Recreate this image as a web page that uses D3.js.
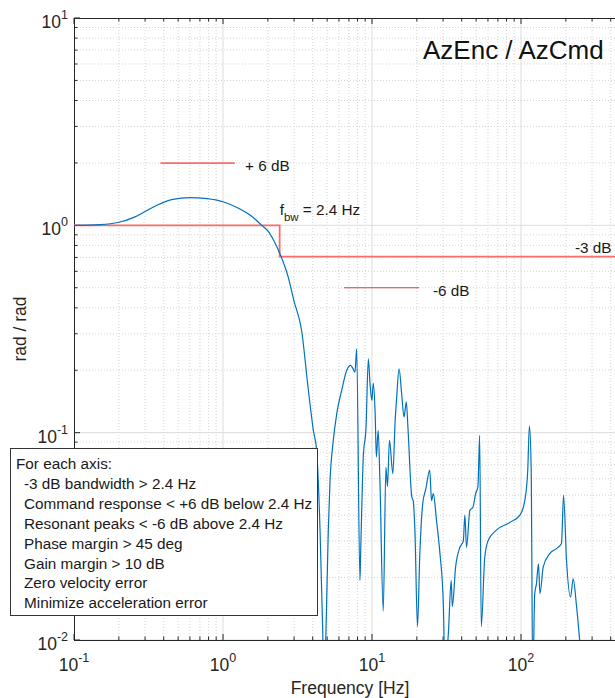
<!DOCTYPE html>
<html>
<head>
<meta charset="utf-8">
<script src="https://cdn.jsdelivr.net/npm/d3@7"></script>
<style>
  body { margin: 0; background: #fff; }
  svg { font-family: "Liberation Sans", Arial, sans-serif; }
</style>
</head>
<body>
<div id="plot"></div>
<script>
// data
const freq = [0.1, 0.15, 0.2, 0.25, 0.3, 0.36, 0.46, 0.6, 0.78, 1.0, 1.3, 1.55, 1.82, 2.0, 2.2, 2.41, 2.74, 3.0, 3.37, 3.72,
  4.04, 4.25, 4.48, 4.67, 4.75, 4.91, 5.09, 5.23, 5.5, 5.8, 6.26, 6.77, 7.19, 7.47, 7.69, 7.89, 8.3, 8.4, 8.74, 9.12,
  9.45, 9.7, 9.98, 10.2, 10.5, 10.7, 11.0, 11.3, 11.9, 12.4, 12.7, 13.1, 13.8, 14.3, 14.6, 15.2, 15.8, 16.4, 17.0, 17.4,
  18.5, 18.9, 19.4, 20.2, 20.9, 21.9, 23.0, 24.4, 25.1, 25.8, 27.1, 28.6, 30.1, 30.9, 32.6, 34.0, 34.6, 36.4, 38.9, 41.0,
  42.0, 43.1, 45.4, 47.6, 49.6, 51.4, 52.8, 54.1, 57.1, 60.0, 68.7, 84.2, 98.4, 106, 111, 113.9, 117, 120, 123.6, 127,
  131, 134, 141, 156, 173, 187, 193, 202, 215, 224, 236, 255, 280];
const mag = [1.0, 1.008, 1.035, 1.09, 1.165, 1.25, 1.335, 1.36, 1.345, 1.30, 1.20, 1.11, 1.0, 0.94, 0.84, 0.73, 0.563, 0.43, 0.311, 0.166,
  0.1026, 0.082, 0.0338, 0.0111, 0.006, 0.011, 0.034, 0.0589, 0.0918, 0.1236, 0.160, 0.1998, 0.211, 0.203, 0.196, 0.254, 0.0194, 0.0271, 0.0763, 0.1064,
  0.227, 0.172, 0.143, 0.173, 0.1235, 0.0763, 0.1026, 0.0589, 0.0138, 0.0683, 0.055, 0.0918, 0.0635, 0.1146, 0.143, 0.203, 0.155, 0.119, 0.141, 0.108,
  0.049, 0.047, 0.034, 0.0116, 0.025, 0.0455, 0.0537, 0.066, 0.047, 0.0508, 0.0377, 0.026, 0.015, 0.007, 0.011, 0.0194, 0.0145, 0.0225, 0.028, 0.030,
  0.040, 0.028, 0.0422, 0.0437, 0.0508, 0.055, 0.097, 0.0116, 0.025, 0.030, 0.034, 0.0369, 0.040, 0.047, 0.066, 0.108, 0.068, 0.006, 0.0167, 0.0187,
  0.0233, 0.0167, 0.0225, 0.0261, 0.0276, 0.0292, 0.050, 0.0243, 0.0161, 0.0197, 0.0145, 0.008, 0.005];

// requirement lines
const fbw = 2.4;
const stepX = [0.1, fbw, fbw, 500];
const stepY = [1, 1, 0.707, 0.707];
const plus6X = [0.38, 1.2], plus6Y = 1.995;
const minus6X = [6.5, 20.7], minus6Y = 0.5;

const xTicks = [0.1, 1, 10, 100];
const xTickExp = ["-1", "0", "1", "2"];
const yTicks = [0.01, 0.1, 1, 10];
const yTickExp = ["-2", "-1", "0", "1"];

const notes = ["For each axis:", "-3 dB bandwidth > 2.4 Hz", "Command response < +6 dB below 2.4 Hz",
  "Resonant peaks < -6 dB above 2.4 Hz", "Phase margin > 45 deg", "Gain margin > 10 dB",
  "Zero velocity error", "Minimize acceleration error"];

const W = 615, H = 698;
const L = 74, T = 18, B = 640;

const svg = d3.select("#plot").append("svg")
  .attr("width", W).attr("height", H);

const x = d3.scaleLog().domain([0.1, 500]).range([L, L + 149 * Math.log10(5000)]);
const y = d3.scaleLog().domain([0.01, 10]).range([B, T]);

svg.append("clipPath").attr("id", "clip")
  .append("rect").attr("x", L).attr("y", T).attr("width", W - L).attr("height", B - T);

// grid
const xAll = x.ticks().filter(v => v >= 0.1 && v <= 500);
const yAll = y.ticks();
const isMajor = v => Math.abs(Math.log10(v) - Math.round(Math.log10(v))) < 1e-6;

const grid = svg.append("g").attr("clip-path", "url(#clip)");
grid.selectAll(".gx").data(xAll).enter().append("line")
  .attr("x1", d => x(d)).attr("x2", d => x(d)).attr("y1", T).attr("y2", B)
  .attr("stroke", d => isMajor(d) ? "#dcdcdc" : "#d4d4d4")
  .attr("stroke-width", 1)
  .attr("stroke-dasharray", d => isMajor(d) ? null : "1,2");
grid.selectAll(".gy").data(yAll).enter().append("line")
  .attr("y1", d => y(d)).attr("y2", d => y(d)).attr("x1", L).attr("x2", W)
  .attr("stroke", d => isMajor(d) ? "#dcdcdc" : "#d4d4d4")
  .attr("stroke-width", 1)
  .attr("stroke-dasharray", d => isMajor(d) ? null : "1,2");

// axes with inward ticks
const axisCol = "#262626";
const tickLen = d => isMajor(d) ? 6 : 3.5;
function drawAxis(g, vals, horiz, pos, dir) {
  g.selectAll("line").data(vals).enter().append("line")
    .attr("x1", d => horiz ? x(d) : pos).attr("x2", d => horiz ? x(d) : pos + dir * tickLen(d))
    .attr("y1", d => horiz ? pos : y(d)).attr("y2", d => horiz ? pos + dir * tickLen(d) : y(d))
    .attr("stroke", axisCol).attr("stroke-width", 1);
}
const axes = svg.append("g");
drawAxis(axes.append("g"), xAll, true, B, -1);
drawAxis(axes.append("g"), xAll, true, T, 1);
drawAxis(axes.append("g"), yAll, false, L, 1);
axes.append("line").attr("x1", L).attr("x2", W).attr("y1", B + 0.5).attr("y2", B + 0.5).attr("stroke", axisCol);
axes.append("line").attr("x1", L).attr("x2", W).attr("y1", T + 0.5).attr("y2", T + 0.5).attr("stroke", axisCol);
axes.append("line").attr("x1", L + 0.5).attr("x2", L + 0.5).attr("y1", T).attr("y2", B).attr("stroke", axisCol);

// tick labels
const tl = svg.append("g").attr("fill", "#262626").attr("font-size", 17.5);
xTicks.forEach((v, i) => {
  const t = tl.append("text").attr("x", x(v)).attr("y", 671).attr("text-anchor", "middle");
  t.append("tspan").text("10");
  t.append("tspan").attr("dy", -9).attr("font-size", 12.5).text(xTickExp[i]);
});
yTicks.forEach((v, i) => {
  const t = tl.append("text").attr("x", 68).attr("y", y(v) + 10).attr("text-anchor", "end");
  t.append("tspan").text("10");
  t.append("tspan").attr("dy", -9).attr("font-size", 12.5).text(yTickExp[i]);
});

// axis labels
svg.append("text").attr("x", 350).attr("y", 694).attr("text-anchor", "middle")
  .attr("font-size", 17.5).attr("fill", "#262626").text("Frequency [Hz]");
svg.append("text").attr("transform", "translate(26,329) rotate(-90)").attr("text-anchor", "middle")
  .attr("font-size", 17.5).attr("fill", "#262626").text("rad / rad");

// plot contents
const plotG = svg.append("g").attr("clip-path", "url(#clip)");

const stepPts = stepX.map((v, i) => [v, stepY[i]]);
plotG.append("path").datum(stepPts)
  .attr("fill", "none").attr("stroke", "#ff6b6b").attr("stroke-width", 1.8)
  .attr("d", d3.line().x(d => x(d[0])).y(d => y(d[1])));

plotG.append("line")
  .attr("x1", x(plus6X[0])).attr("x2", x(plus6X[1])).attr("y1", y(plus6Y)).attr("y2", y(plus6Y))
  .attr("stroke", "#ff6b6b").attr("stroke-width", 1.6);
plotG.append("line")
  .attr("x1", x(minus6X[0])).attr("x2", x(minus6X[1])).attr("y1", y(minus6Y)).attr("y2", y(minus6Y))
  .attr("stroke", "#e8353a").attr("stroke-width", 1.1);

const pts = freq.map((f, i) => [f, mag[i]]);
plotG.append("path").datum(pts)
  .attr("fill", "none").attr("stroke", "#0072BD").attr("stroke-width", 1.2)
  .attr("stroke-linejoin", "round")
  .attr("d", d3.line().curve(d3.curveMonotoneX).x(d => x(d[0])).y(d => y(d[1])));

// annotations
const ann = svg.append("g").attr("fill", "#1a1a1a").attr("font-size", 15.3);
ann.append("text").attr("x", 245).attr("y", 171).text("+ 6 dB");
ann.append("text").attr("x", 433).attr("y", 296).text("-6 dB");
ann.append("text").attr("x", 575).attr("y", 253).text("-3 dB");
const fb = ann.append("text").attr("x", x(fbw)).attr("y", 215);
fb.append("tspan").text("f");
fb.append("tspan").attr("dy", 6).attr("font-size", 11.5).text("bw");
fb.append("tspan").attr("dy", -6).text(" = 2.4 Hz");

svg.append("text").attr("x", 423).attr("y", 59).attr("font-size", 26).attr("fill", "#111")
  .text("AzEnc / AzCmd");

// requirements box
const box = svg.append("g");
box.append("rect").attr("x", 10.5).attr("y", 448.5).attr("width", 307).attr("height", 167)
  .attr("fill", "#fff").attr("stroke", "#333").attr("stroke-width", 1);
box.selectAll("text").data(notes).enter().append("text")
  .attr("x", (d, i) => i === 0 ? 16 : 24)
  .attr("y", (d, i) => 469 + i * 19.9)
  .attr("font-size", 15.3).attr("fill", "#1a1a1a")
  .text(d => d);
</script>
</body>
</html>
